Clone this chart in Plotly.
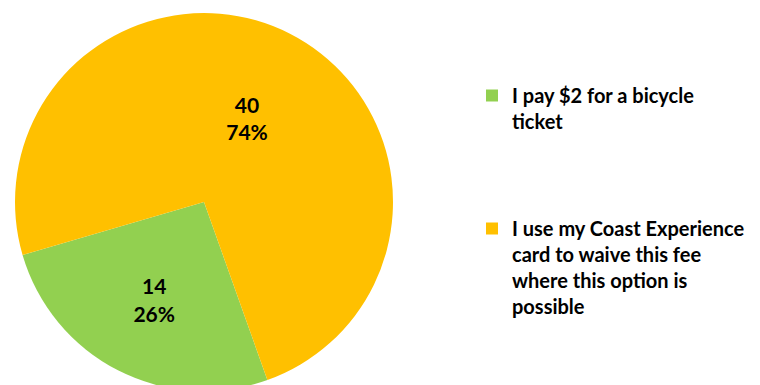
import plotly.graph_objects as go

# Survey responses: how riders cover the bicycle fare
labels = [
    "I pay $2 for a bicycle<br>ticket",
    "I use my Coast Experience<br>card to waive this fee<br>where this option is<br>possible",
]
counts = [14, 40]
colors = ["#92D050", "#FFC000"]

W, H = 760, 395
fig = go.Figure(
    go.Pie(
        labels=labels,
        values=counts,
        sort=False,
        direction="clockwise",
        rotation=160.4,
        marker=dict(colors=colors, line=dict(width=0)),
        texttemplate="%{value}<br>%{percent:.0%}",
        textposition="inside",
        insidetextorientation="horizontal",
        textfont=dict(family="Lato, sans-serif", size=21, color="#000000", weight="bold"),
        domain=dict(x=[15 / W, 393 / W], y=[(H - 391) / H, (H - 13) / H]),
        hoverinfo="label+value+percent",
    )
)

# Pad the first entry so the second one sits lower, as a spaced-out list
fig.data[0].labels = (labels[0] + "<br> <br> <br> ", labels[1])

fig.update_layout(
    width=W,
    height=H,
    margin=dict(l=0, r=0, t=0, b=0),
    paper_bgcolor="white",
    plot_bgcolor="white",
    showlegend=True,
    uniformtext=dict(minsize=21, mode="show"),
    legend=dict(
        x=472 / W,
        xanchor="left",
        y=1 - 76 / H,
        yanchor="top",
        valign="top",
        font=dict(family="Lato, sans-serif", size=20, color="#000000", weight="bold"),
        bgcolor="rgba(0,0,0,0)",
    ),
)

fig.write_html(
    "out.html",
    post_script="document.documentElement.style.overflow='hidden';document.body.style.overflow='hidden';",
)
